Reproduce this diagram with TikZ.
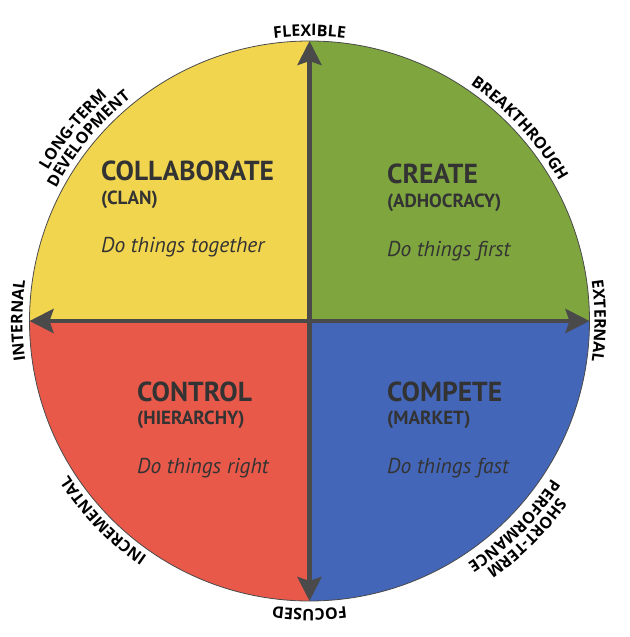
\documentclass[tikz,border=0pt]{standalone}
\usepackage{fontspec}
\setmainfont{PT Sans}
\newfontfamily\ringfamily{Open Sans}
\usepackage{tikz}
\usetikzlibrary{arrows.meta,decorations.text}

\definecolor{jaune}{HTML}{F2D54F}
\definecolor{vert}{HTML}{7EA53E}
\definecolor{rouge}{HTML}{E8594A}
\definecolor{bleu}{HTML}{4466B8}
\definecolor{sombre}{HTML}{333333}
\definecolor{axegris}{HTML}{4A4A4A}
\newcommand{\ringfont}{\ringfamily\bfseries\fontsize{16}{16}\selectfont}

\begin{document}
\begin{tikzpicture}[
    x=1pt, y=1pt,
    % Secteurs du cercle
    secteur/.style={draw=none},
    % Contour du cercle
    bord/.style={draw=axegris, line width=0.8pt},
    % Axes avec fleches aux deux bouts
    axe/.style={draw=axegris, line width=4.5pt, {Stealth[length=24pt, width=24pt, inset=4pt]}-{Stealth[length=24pt, width=24pt, inset=4pt]}},
    % Textes des quadrants
    titre/.style={anchor=base west, inner sep=0pt, text=sombre, font=\bfseries\fontsize{27.5}{27.5}\selectfont},
    sous/.style={anchor=base west, inner sep=0pt, text=sombre, font=\bfseries\fontsize{19}{19}\selectfont},
    devise/.style={anchor=base west, inner sep=0pt, text=sombre, font=\itshape\fontsize{21.5}{21.5}\selectfont},
    % Texte le long du cercle
    arclabel/.style={decorate, decoration={text along path, text align=center, text={|\ringfont|#1}}}
]
\useasboundingbox (-309.5,-316) rectangle (319.5,321);

\coordinate (c) at (0,0);
\coordinate (haut) at (90:280);
\coordinate (bas) at (270:280);
\coordinate (gauche) at (180:280);
\coordinate (droite) at (0:280);

% Quadrants
\fill[jaune, secteur] (c) -- (haut) arc[start angle=90, end angle=180, radius=280] -- cycle;
\fill[vert, secteur] (c) -- (droite) arc[start angle=0, end angle=90, radius=280] -- cycle;
\fill[rouge, secteur] (c) -- (gauche) arc[start angle=180, end angle=270, radius=280] -- cycle;
\fill[bleu, secteur] (c) -- (bas) arc[start angle=270, end angle=360, radius=280] -- cycle;
\draw[bord] (c) circle[radius=280];

% Axes
\draw[axe] (bas) -- (haut);
\draw[axe] (gauche) -- (droite);

% Quadrant en haut a gauche
\node[titre] (collab) at (-208.5,140) {COLLABORATE};
\node[sous] (clan) at (-208.5,116) {(CLAN)};
\node[devise] (ensemble) at (-208.5,68) {Do things together};

% Quadrant en haut a droite
\node[titre] (create) at (77.5,137) {CREATE};
\node[sous] (adhoc) at (77.5,113) {(ADHOCRACY)};
\node[devise] (premier) at (77.5,64) {Do things first};

% Quadrant en bas a gauche
\node[titre] (control) at (-172.5,-80) {CONTROL};
\node[sous] (hier) at (-172.5,-103) {(HIERARCHY)};
\node[devise] (juste) at (-172.5,-152) {Do things right};

% Quadrant en bas a droite
\node[titre] (compete) at (77.5,-80) {COMPETE};
\node[sous] (market) at (77.5,-103) {(MARKET)};
\node[devise] (vite) at (77.5,-152) {Do things fast};

% Etiquettes autour du cercle
\path[arclabel=FLEXIBLE] (130:285) arc[start angle=130, end angle=50, radius=285];
\path[arclabel=EXTERNAL] (40:285) arc[start angle=40, end angle=-40, radius=285];
\path[arclabel=FOCUSED] (310:288) arc[start angle=310, end angle=230, radius=288];
\path[arclabel=INTERNAL] (220:287) arc[start angle=220, end angle=140, radius=287];
\path[arclabel=BREAKTHROUGH] (82.5:286) arc[start angle=82.5, end angle=2.5, radius=286];
\path[arclabel=LONG-TERM] (181:302) arc[start angle=181, end angle=101, radius=302];
\path[arclabel=DEVELOPMENT] (180.5:286) arc[start angle=180.5, end angle=100.5, radius=286];
\path[arclabel=INCREMENTAL] (264:286) arc[start angle=264, end angle=184, radius=286];
\path[arclabel=SHORT-TERM] (355:305) arc[start angle=355, end angle=275, radius=305];
\path[arclabel=PERFORMANCE] (355:289) arc[start angle=355, end angle=275, radius=289];

\end{tikzpicture}
\end{document}
